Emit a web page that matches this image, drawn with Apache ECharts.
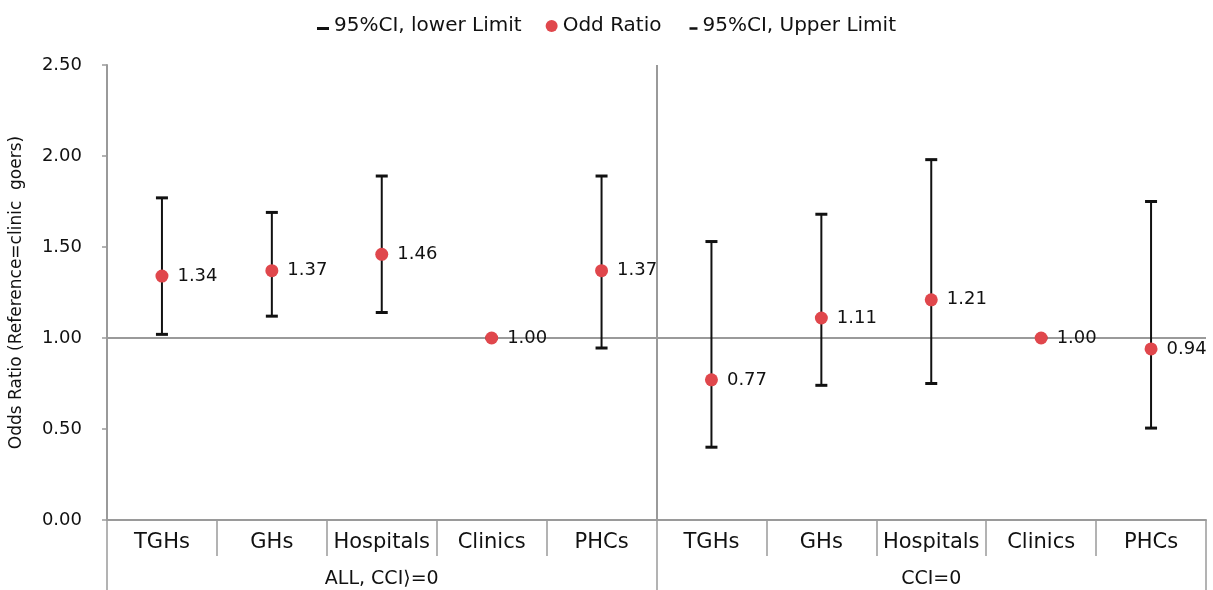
<!DOCTYPE html>
<html>
<head>
<meta charset="utf-8">
<script src="https://cdn.jsdelivr.net/npm/echarts@6/dist/echarts.min.js"></script>
<style>html,body{margin:0;padding:0;background:#fff;}#c{width:1213px;height:590px;}</style>
</head>
<body>
<div id="c"></div>
<script>
var categories = ['TGHs','GHs','Hospitals','Clinics','PHCs','TGHs','GHs','Hospitals','Clinics','PHCs'];
var groups = ['ALL, CCI\u27e9=0', 'CCI=0'];
var oddRatio = [1.34, 1.37, 1.46, 1.00, 1.37, 0.77, 1.11, 1.21, 1.00, 0.94];
var lowerLimit = [1.02, 1.12, 1.14, 1.00, 0.945, 0.40, 0.74, 0.75, 1.00, 0.505];
var upperLimit = [1.77, 1.69, 1.89, 1.00, 1.89, 1.53, 1.68, 1.98, 1.00, 1.75];
var yTicks = [0, 0.5, 1.0, 1.5, 2.0, 2.5];

var FONT = 'DejaVu Sans';
var GRAY = '#9a9a9a';
var INK = '#111111';

function errRender(params, api) {
  var x = api.value(0), a = api.value(1), b = api.value(2);
  var p1 = api.coord([x, a]), p2 = api.coord([x, b]);
  var hw = 6;
  return {
    type: 'group',
    children: [
      {type: 'line', shape: {x1: p1[0], y1: p1[1], x2: p2[0], y2: p2[1]}, style: {stroke: INK, lineWidth: 2}},
      {type: 'line', shape: {x1: p2[0] - hw, y1: p2[1], x2: p2[0] + hw, y2: p2[1]}, style: {stroke: INK, lineWidth: 3}}
    ]
  };
}

var lowerData = categories.map(function (c, i) { return [i, oddRatio[i], lowerLimit[i]]; });
var upperData = categories.map(function (c, i) { return [i, oddRatio[i], upperLimit[i]]; });
var orData = categories.map(function (c, i) { return [i, oddRatio[i]]; });

var chart = echarts.init(document.getElementById('c'));
chart.setOption({
  animation: false,
  backgroundColor: '#fff',
  textStyle: {fontFamily: FONT},
  legend: {
    top: 11,
    left: 'center',
    itemGap: 24,
    itemWidth: 12,
    itemHeight: 12,
    textStyle: {fontFamily: FONT, fontSize: 20, color: INK},
    itemStyle: {borderWidth: 0},
    data: [
      {name: '95%CI, lower Limit', icon: 'path://M0,0L12,0L0,0Z M0,5h12v3h-12z', itemStyle: {color: INK}},
      {name: 'Odd Ratio', icon: 'circle', itemStyle: {color: '#E0474C'}},
      {name: '95%CI, Upper Limit', icon: 'path://M0,0L12,0L0,0Z M4,5h8v2.6h-8z', itemStyle: {color: INK}}
    ]
  },
  grid: {left: 103, right: 7, top: 65, bottom: 70},
  xAxis: [
    {
      type: 'category',
      data: categories,
      position: 'bottom',
      boundaryGap: true,
      axisLine: {show: true, lineStyle: {color: GRAY, width: 2}},
      axisTick: {show: true, length: 36, lineStyle: {color: GRAY, width: 1.5}},
      axisLabel: {fontFamily: FONT, fontSize: 21, color: INK, margin: 12, interval: 0},
      splitLine: {show: false}
    },
    {
      type: 'category',
      data: groups,
      position: 'bottom',
      boundaryGap: true,
      axisLine: {show: false},
      axisTick: {show: true, length: 70, lineStyle: {color: GRAY, width: 1.5}},
      axisLabel: {fontFamily: FONT, fontSize: 19, color: INK, margin: 50, interval: 0},
      splitLine: {show: true, showMinLine: false, showMaxLine: false, lineStyle: {color: GRAY, width: 2}}
    }
  ],
  yAxis: {
    type: 'value',
    min: yTicks[0],
    max: yTicks[yTicks.length - 1],
    interval: 0.5,
    name: 'Odds Ratio (Reference=clinic  goers)',
    nameLocation: 'middle',
    nameGap: 82,
    nameTextStyle: {fontFamily: FONT, fontSize: 17, color: INK},
    axisLine: {show: true, lineStyle: {color: GRAY, width: 2}},
    axisTick: {show: true, length: 5, lineStyle: {color: GRAY, width: 1.5}},
    axisLabel: {fontFamily: FONT, fontSize: 18, color: INK, margin: 25, formatter: function (v) { return v.toFixed(2); }},
    splitLine: {show: false}
  },
  series: [
    {
      name: '95%CI, lower Limit',
      type: 'custom',
      xAxisIndex: 0,
      renderItem: errRender,
      encode: {x: 0, y: [1, 2]},
      itemStyle: {color: INK},
      data: lowerData,
      z: 3
    },
    {
      name: '95%CI, Upper Limit',
      type: 'custom',
      xAxisIndex: 0,
      renderItem: errRender,
      encode: {x: 0, y: [1, 2]},
      itemStyle: {color: INK},
      data: upperData,
      z: 3
    },
    {
      name: 'Odd Ratio',
      type: 'scatter',
      xAxisIndex: 0,
      symbol: 'circle',
      symbolSize: 13,
      itemStyle: {color: '#E0474C', opacity: 1},
      label: {
        show: true,
        position: 'right',
        distance: 9,
        fontFamily: FONT,
        fontSize: 18,
        color: INK,
        formatter: function (p) { return p.value[1].toFixed(2); }
      },
      data: orData,
      z: 4,
      markLine: {
        silent: true,
        symbol: 'none',
        label: {show: false},
        lineStyle: {color: GRAY, width: 2, type: 'solid'},
        data: [{yAxis: 1}],
        z: 1
      }
    }
  ]
});
</script>
</body>
</html>
